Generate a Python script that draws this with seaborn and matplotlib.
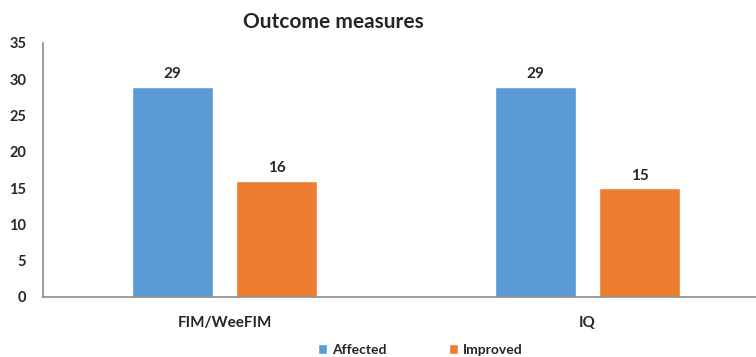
import matplotlib
matplotlib.use("Agg")
import matplotlib.pyplot as plt
import seaborn as sns
import pandas as pd

categories = ["FIM/WeeFIM", "IQ"]
affected = [29, 29]
improved = [16, 15]
series_names = ["Affected", "Improved"]
colors = ["#5B9BD5", "#ED7D31"]
title = "Outcome measures"

df = pd.DataFrame({
    "measure": categories * 2,
    "count": affected + improved,
    "group": [series_names[0]] * len(categories) + [series_names[1]] * len(categories),
})

sns.set_theme(style="white")
plt.rcParams["font.family"] = ["Lato", "DejaVu Sans"]

fig = plt.figure(figsize=(7.56, 3.57), dpi=100)
ax = fig.add_axes([43 / 756, 60 / 357, 713 / 756, 254 / 357])

sns.barplot(data=df, x="measure", y="count", hue="group", palette=colors,
            width=0.573, gap=0.22, ax=ax, legend=True, saturation=1)

ax.set_ylim(0, 35)
ax.set_xlim(-0.5, 1.464)
ax.set_yticks(range(0, 36, 5))
ax.set_xlabel("")
ax.set_ylabel("")

for s in ["top", "right"]:
    ax.spines[s].set_visible(False)
for s in ["left", "bottom"]:
    ax.spines[s].set_color("#8c8c8c")
    ax.spines[s].set_linewidth(1.2)

ax.tick_params(axis="y", length=0, pad=12, labelsize=10.5)
ax.tick_params(axis="x", length=0, pad=14, labelsize=11)
for lbl in ax.get_yticklabels() + ax.get_xticklabels():
    lbl.set_fontweight("bold")

for cont in ax.containers:
    ax.bar_label(cont, padding=4, fontsize=11, fontweight="bold")

fig.text(333 / 756, 1 - 22 / 357, title, ha="center", va="center",
         fontsize=15, fontweight="bold")

handles, labels = ax.get_legend_handles_labels()
ax.get_legend().remove()
fig.legend(handles, labels, loc="center", bbox_to_anchor=(420 / 756, 1 - 350 / 357),
           ncol=2, frameon=False, handlelength=0.7, handleheight=0.7,
           columnspacing=4.5, handletextpad=0.3,
           prop={"weight": "bold", "size": 10})

fig.savefig("out.png", dpi=100)
